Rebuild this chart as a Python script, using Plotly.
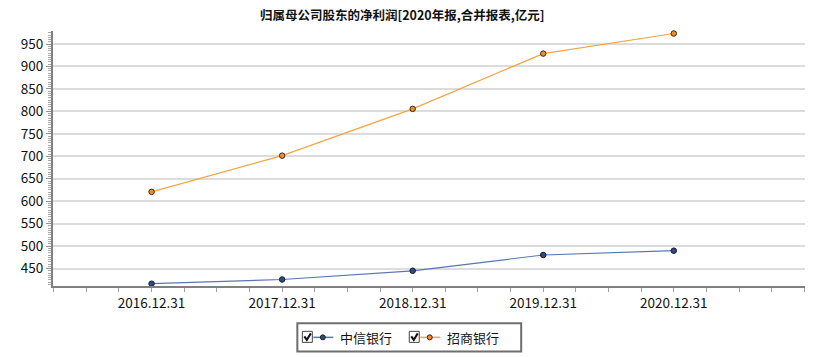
import plotly.graph_objects as go

# ---- data ----
categories = ["2016.12.31", "2017.12.31", "2018.12.31", "2019.12.31", "2020.12.31"]
citic = [416.3, 425.7, 445.1, 480.2, 489.8]
cmb = [620.8, 701.5, 805.6, 928.7, 973.4]
series_names = ["中信银行", "招商银行"]
title_text = "归属母公司股东的净利润[2020年报,合并报表,亿元]"

FONT = "Noto Sans CJK SC"
W, H = 825, 357
L, R, T, B = 52.5, 805, 31, 285.7

BLUE_LINE = "#5876b0"
BLUE_MK = "#2f4a7e"
ORANGE_LINE = "#f5a443"
ORANGE_MK = "#ec8f28"

xs = list(range(len(categories)))

fig = go.Figure()
fig.add_trace(go.Scatter(
    x=xs, y=citic, name=series_names[0], mode="lines+markers",
    line=dict(color=BLUE_LINE, width=1.2),
    marker=dict(size=5.5, color=BLUE_MK, line=dict(color="#1a1a2a", width=1)),
    showlegend=False, cliponaxis=False))
fig.add_trace(go.Scatter(
    x=xs, y=cmb, name=series_names[1], mode="lines+markers",
    line=dict(color=ORANGE_LINE, width=1.2),
    marker=dict(size=5.5, color=ORANGE_MK, line=dict(color="#3a2a1a", width=1)),
    showlegend=False, cliponaxis=False))


def px_x(p):
    return (p - L) / (R - L)


def px_y(p):
    return (B - p) / (B - T)


shapes = []
annotations = []

# legend box
shapes.append(dict(type="rect", xref="paper", yref="paper",
                   x0=px_x(297), x1=px_x(521), y0=px_y(351), y1=px_y(323),
                   line=dict(color="#6e6e6e", width=2), fillcolor="white"))

legend_items = [
    (302, series_names[0], BLUE_LINE, BLUE_MK),
    (409, series_names[1], ORANGE_LINE, ORANGE_MK),
]
cy = 337
for x0, name, lc, mc in legend_items:
    # checkbox
    shapes.append(dict(type="rect", xref="paper", yref="paper",
                       x0=px_x(x0), x1=px_x(x0 + 10), y0=px_y(cy + 5), y1=px_y(cy - 6),
                       line=dict(color="#444", width=1), fillcolor="white"))
    # check mark
    pts = [(x0 + 2, cy - 1), (x0 + 4.5, cy + 2.5), (x0 + 8.5, cy - 4)]
    path = "M " + " L ".join(f"{px_x(a)},{px_y(b)}" for a, b in pts)
    shapes.append(dict(type="path", xref="paper", yref="paper", path=path,
                       line=dict(color="#111", width=2)))
    # sample line
    shapes.append(dict(type="line", xref="paper", yref="paper",
                       x0=px_x(x0 + 11), x1=px_x(x0 + 31), y0=px_y(cy), y1=px_y(cy),
                       line=dict(color=lc, width=1.5)))
    # sample marker
    shapes.append(dict(type="circle", xref="paper", yref="paper",
                       x0=px_x(x0 + 18), x1=px_x(x0 + 23), y0=px_y(cy + 2.5), y1=px_y(cy - 2.5),
                       line=dict(color="#222", width=1), fillcolor=mc))
    annotations.append(dict(text=name, xref="paper", yref="paper",
                            x=px_x(x0 + 36), y=px_y(cy), xanchor="left", yanchor="middle",
                            showarrow=False, font=dict(family=FONT, size=13, color="#111")))

# title as centered annotation
annotations.append(dict(text="<b>" + title_text + "</b>", xref="paper", yref="paper",
                        x=px_x(402), y=px_y(15), xanchor="center", yanchor="middle",
                        showarrow=False, font=dict(family=FONT, size=12.5, color="#111")))

fig.update_layout(
    width=W, height=H,
    margin=dict(l=L, r=W - R, t=T, b=H - B, pad=0),
    paper_bgcolor="white", plot_bgcolor="white",
    font=dict(family=FONT, size=13, color="#111"),
    shapes=shapes, annotations=annotations,
    showlegend=False,
)

fig.update_xaxes(
    range=[-0.755, 5.005], tickvals=xs, ticktext=categories,
    showgrid=False, zeroline=False,
    showline=True, linecolor="#808080", linewidth=2,
    ticks="outside", ticklen=4, tickcolor="#a0a0a0", tickwidth=1,
    minor=dict(dtick=0.25, tick0=0, ticks="outside", ticklen=4, tickcolor="#a0a0a0", tickwidth=1),
    tickfont=dict(family=FONT, size=13.5, color="#111"),
)
fig.update_yaxes(
    range=[411.2, 979], dtick=50, tick0=0,
    showgrid=True, gridcolor="#dcdcdc", gridwidth=2,
    zeroline=False,
    showline=True, linecolor="#808080", linewidth=2,
    ticks="outside", ticklen=5, tickcolor="#909090", tickwidth=1,
    minor=dict(dtick=5, tick0=0, ticks="outside", ticklen=3, tickcolor="#a8a8a8", tickwidth=1, showgrid=False),
    tickfont=dict(family=FONT, size=13.5, color="#111"),
)

fig.write_html("out.html")
